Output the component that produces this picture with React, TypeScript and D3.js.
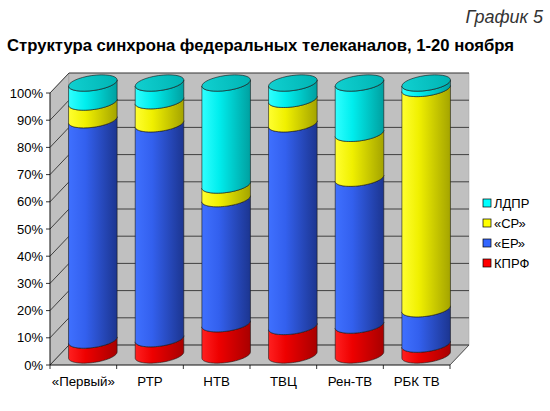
import React from "react";
import * as d3 from "d3";

const categories = ["«Первый»", "РТР", "НТВ", "ТВЦ", "Рен-ТВ", "РБК ТВ"];
const seriesNames = ["КПРФ", "«ЕР»", "«СР»", "ЛДПР"];
const kprf = [5.5, 6, 11.5, 10.5, 11, 4];
const er = [81, 79, 46, 74.5, 54, 13];
const sr = [6.5, 8.5, 5, 9, 16.5, 81];
const ldpr = [7, 6.5, 37.5, 6, 18.5, 2];
const yTicks = [0, 10, 20, 30, 40, 50, 60, 70, 80, 90, 100];

const colors = [
  { id: "red", l: "#ff2020", m: "#ee0000", r: "#a80000" },
  { id: "blue", l: "#3f70ff", m: "#3360ee", r: "#1c3590" },
  { id: "yellow", l: "#ffff30", m: "#f0f000", r: "#a4a400" },
  { id: "cyan", l: "#30ffff", m: "#00eeee", r: "#00a0a0" },
];
const legendColors = ["#ff0000", "#3366ff", "#ffff00", "#00ffff"];

const W = 550, H = 411;
const FONT = "'Liberation Sans', Arial, sans-serif";
const DX = 19, DY = -20;
const rx = 24.5, ry = 7.5;
const rot = (-8 * Math.PI) / 180;

export default function App() {
  const x = d3.scaleBand<string>().domain(categories).range([50, 450]).paddingInner(0).paddingOuter(0);
  const y = d3.scaleLinear().domain([0, 100]).range([365, 93]);

  const table = categories.map((c, i) => ({ cat: c, s0: kprf[i], s1: er[i], s2: sr[i], s3: ldpr[i] }));
  const stack = d3.stack<any>().keys(["s0", "s1", "s2", "s3"]);
  const stacked = stack(table);

  const pt = (cx: number, cy: number, t: number): [number, number] => {
    const c = Math.cos(t), s = Math.sin(t);
    return [cx + rx * c * Math.cos(rot) - ry * s * Math.sin(rot), cy + rx * c * Math.sin(rot) + ry * s * Math.cos(rot)];
  };
  const t0 = Math.atan2(-ry * Math.sin(rot), rx * Math.cos(rot));
  const arc = (cx: number, cy: number) => d3.range(0, 41).map((k) => pt(cx, cy, t0 + (Math.PI * k) / 40));
  const line = d3.line();

  const mid = (v: number) => y(v) + DY / 2;
  const cxOf = (c: string) => (x(c) as number) + x.bandwidth() / 2 + DX / 2;

  const y0 = y(0), y100 = y(100);
  const xL = 50, xR = 450;

  return (
    <svg width={W} height={H} style={{ position: "absolute", left: 0, top: 0, background: "#fff" }}>
      <defs>
        {colors.map((c) => (
          <linearGradient key={c.id} id={"g-" + c.id} x1="0" x2="1" y1="0" y2="0">
            <stop offset="0" stopColor={c.l} />
            <stop offset="0.35" stopColor={c.m} />
            <stop offset="1" stopColor={c.r} />
          </linearGradient>
        ))}
        <linearGradient id="lid" x1="0" x2="1" y1="0" y2="0">
          <stop offset="0" stopColor="#10d0d0" />
          <stop offset="1" stopColor="#00b4b4" />
        </linearGradient>
      </defs>

      {/* title */}
      <text x={543} y={23} textAnchor="end" fontFamily={FONT} fontStyle="italic" fontSize={18} fill="#333">
        График 5
      </text>
      <text x={7} y={51} fontFamily={FONT} fontWeight="bold" fontSize={16.7} fill="#000">
        Структура синхрона федеральных телеканалов, 1-20 ноября
      </text>

      {/* walls */}
      <polygon points={`${xL},${y100} ${xL + DX},${y100 + DY} ${xL + DX},${y0 + DY} ${xL},${y0}`} fill="#c0c0c0" stroke="#808080" strokeWidth={0.5} />
      <polygon points={`${xL + DX},${y100 + DY} ${xR + DX},${y100 + DY} ${xR + DX},${y0 + DY} ${xL + DX},${y0 + DY}`} fill="#c0c0c0" stroke="#a0a0a0" strokeWidth={0.5} />
      <polygon points={`${xL},${y0} ${xL + DX},${y0 + DY} ${xR + DX},${y0 + DY} ${xR},${y0}`} fill="#c0c0c0" stroke="#808080" strokeWidth={0.5} />

      {/* gridlines */}
      {yTicks.map((t) => (
        <g key={t}>
          <line x1={xL} y1={y(t)} x2={xL + DX} y2={y(t) + DY} stroke="#202020" strokeWidth={0.8} />
          <line x1={xL + DX} y1={y(t) + DY} x2={xR + DX} y2={y(t) + DY} stroke="#202020" strokeWidth={0.8} />
        </g>
      ))}
      <line x1={xR} y1={y0} x2={xR + DX} y2={y0 + DY} stroke="#404040" strokeWidth={0.8} />

      {/* axes */}
      <line x1={xL} y1={y0} x2={xL} y2={y100} stroke="#000" strokeWidth={0.8} />
      <line x1={xL} y1={y0} x2={xR} y2={y0} stroke="#000" strokeWidth={0.8} />
      {yTicks.map((t) => (
        <g key={"yt" + t}>
          <line x1={xL - 4} y1={y(t)} x2={xL} y2={y(t)} stroke="#000" strokeWidth={0.8} />
          <text x={xL - 7} y={y(t) + 4.5} textAnchor="end" fontFamily={FONT} fontSize={13} fill="#000">
            {t}%
          </text>
        </g>
      ))}
      {d3.range(0, categories.length + 1).map((i) => {
        const xx = xL + i * x.bandwidth();
        return <line key={"xt" + i} x1={xx} y1={y0} x2={xx} y2={y0 + 4} stroke="#000" strokeWidth={0.8} />;
      })}
      {categories.map((c) => (
        <text key={"xl" + c} x={(x(c) as number) + x.bandwidth() / 2} y={386} textAnchor="middle" fontFamily={FONT} fontSize={13.3} fill="#000">
          {c}
        </text>
      ))}

      {/* cylinders */}
      {categories.map((c, ci) => {
        const cx = cxOf(c);
        const segs = stacked.map((s, si) => {
          const d = s[ci];
          const bottom = arc(cx, mid(d[0]));
          const top = arc(cx, mid(d[1])).slice().reverse();
          const path = line([...bottom, ...top]) + "Z";
          return <path key={si} d={path} fill={`url(#g-${colors[si].id})`} stroke="#1a1a1a" strokeWidth={0.6} strokeLinejoin="round" />;
        });
        const topV = stacked[stacked.length - 1][ci][1];
        const cyT = mid(topV);
        return (
          <g key={"cyl" + c}>
            {segs}
            <ellipse cx={cx} cy={cyT} rx={rx} ry={ry} transform={`rotate(${(rot * 180) / Math.PI},${cx},${cyT})`} fill="url(#lid)" stroke="#1a1a1a" strokeWidth={0.6} />
          </g>
        );
      })}

      {/* legend */}
      {[3, 2, 1, 0].map((si, k) => (
        <g key={"lg" + si} transform={`translate(483,${203 + k * 20})`}>
          <rect x={0} y={-4} width={8} height={8} fill={legendColors[si]} stroke="#000" strokeWidth={0.7} />
          <text x={11} y={4.5} fontFamily={FONT} fontSize={13} fill="#000">
            {seriesNames[si]}
          </text>
        </g>
      ))}
    </svg>
  );
}
